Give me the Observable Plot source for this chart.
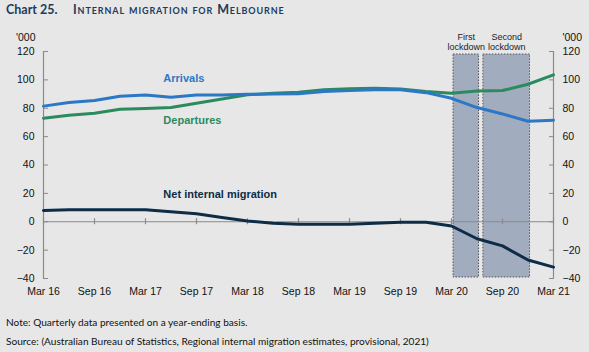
<!DOCTYPE html>
<html>
<head>
<meta charset="utf-8">
<script src="https://cdn.jsdelivr.net/npm/d3@7"></script>
<script src="https://cdn.jsdelivr.net/npm/@observablehq/plot@0.6"></script>
<style>
  html, body { margin: 0; padding: 0; }
  body { width: 589px; height: 352px; background: #e7e7e7; position: relative; overflow: hidden; font-family: "Liberation Sans", Arial, sans-serif; }
  #title { position: absolute; left: 6px; top: 2px; font-family: Lato, "Open Sans", sans-serif; font-weight: bold; color: #1d3c5c; font-size: 12.5px; white-space: nowrap; }
  #title .sub { position: absolute; left: 67px; top: 0; font-variant: small-caps; letter-spacing: 0.9px; font-size: 12.5px; }
  #chart { position: absolute; left: 0; top: 0; }
  .note { position: absolute; left: 6px; font-family: Lato, "Open Sans", sans-serif; font-size: 10.1px; color: #111; white-space: nowrap; }
</style>
</head>
<body>
<div id="chart"></div>
<div id="title"><span>Chart 25.</span><span class="sub">Internal migration for Melbourne</span></div>
<div class="note" style="top:316px">Note: Quarterly data presented on a year-ending basis.</div>
<div class="note" style="top:335px">Source: (Australian Bureau of Statistics, Regional internal migration estimates, provisional, 2021)</div>
<script>
// ---- data ----
const quarters = ["Mar 16","Jun 16","Sep 16","Dec 16","Mar 17","Jun 17","Sep 17","Dec 17",
  "Mar 18","Jun 18","Sep 18","Dec 18","Mar 19","Jun 19","Sep 19","Dec 19",
  "Mar 20","Jun 20","Sep 20","Dec 20","Mar 21"];
const arrivals   = [81.5, 84.0, 85.5, 88.5, 89.3, 87.8, 89.3, 89.4, 89.8, 90.0, 90.3, 91.8, 92.5, 93.0, 93.0, 91.0, 87.0, 80.5, 76.0, 70.8, 71.5];
const departures = [73.0, 75.0, 76.5, 79.3, 79.8, 80.5, 83.5, 86.5, 89.5, 90.5, 91.2, 93.0, 93.7, 94.1, 93.5, 91.8, 90.6, 92.2, 92.5, 96.9, 103.5];
const netMigration = [8.0, 8.5, 8.5, 8.5, 8.5, 7.0, 5.6, 3.0, 0.5, -1.0, -1.7, -1.7, -1.7, -1.0, -0.4, -0.4, -3.0, -12.0, -17.0, -27.0, -32.0];
const yTicks = [-40, -20, 0, 20, 40, 60, 80, 100, 120];
const xTickIdx = [0, 2, 4, 6, 8, 10, 12, 14, 16, 18, 20];
const lockdowns = [
  {name: "First\nlockdown", start: 16.08, end: 17.08},
  {name: "Second\nlockdown", start: 17.25, end: 19.08}
];
const seriesLabels = [
  {name: "Arrivals", x: 4.7, y: 101, color: "#2a78c6"},
  {name: "Departures", x: 4.7, y: 71.3, color: "#2c8a5f"},
  {name: "Net internal migration", x: 4.7, y: 19.2, color: "#0d2c47"}
];

const rows = (vals) => vals.map((v, i) => ({i, v}));
const axisGrey = "#8a8a8a";
const tickFont = {fontSize: 10.5, fill: "#111"};

const chart = Plot.plot({
  width: 589,
  height: 305,
  marginLeft: 43,
  marginRight: 36,
  marginTop: 51,
  marginBottom: 27,
  style: {background: "transparent", fontFamily: "'Liberation Sans', Arial, sans-serif", fontSize: "10.5px", color: "#111"},
  x: {domain: [0, quarters.length - 1]},
  y: {domain: [-40, 120]},
  marks: [
    Plot.rect(lockdowns, {x1: "start", x2: "end", fill: "#a2acbf", stroke: "#555", strokeDasharray: "1.5,1.5", strokeWidth: 1, insetTop: 3, insetBottom: 1}),
    Plot.text(lockdowns, {x: d => (d.start + d.end) / 2, text: "name", frameAnchor: "top", lineAnchor: "bottom", dy: -2, fontSize: 9, lineHeight: 1.1, fill: "#222"}),
    Plot.ruleY([0], {stroke: axisGrey, strokeWidth: 1.2}),
    Plot.ruleX(xTickIdx, {x: d => d, y1: 0, y2: 0, insetTop: -3, insetBottom: -3, stroke: axisGrey, strokeWidth: 1.2}),
    Plot.ruleX([0, quarters.length - 1], {stroke: axisGrey, strokeWidth: 1.2}),
    Plot.axisY(yTicks, {anchor: "left", tickSize: -5, tickFormat: () => "", label: null, stroke: axisGrey}),
    Plot.axisY(yTicks, {anchor: "right", tickSize: -5, tickFormat: () => "", label: null, stroke: axisGrey}),
    Plot.axisY(yTicks, {anchor: "left", tickSize: 0, tickPadding: 9, label: null, ...tickFont}),
    Plot.axisY(yTicks, {anchor: "right", tickSize: 0, tickPadding: 9, label: null, ...tickFont}),
    Plot.axisX(xTickIdx, {anchor: "bottom", tickSize: 0, tickPadding: 9, tickFormat: i => quarters[i], label: null, ...tickFont}),
    Plot.text(["'000"], {frameAnchor: "top-left", dx: -8, dy: -18, textAnchor: "end", ...tickFont}),
    Plot.text(["'000"], {frameAnchor: "top-right", dx: 9, dy: -18, textAnchor: "start", ...tickFont}),
    Plot.line(rows(departures), {x: "i", y: "v", stroke: "#2c8a5f", strokeWidth: 3}),
    Plot.line(rows(arrivals), {x: "i", y: "v", stroke: "#2a78c6", strokeWidth: 3}),
    Plot.line(rows(netMigration), {x: "i", y: "v", stroke: "#0d2c47", strokeWidth: 3}),
    ...seriesLabels.map(s => Plot.text([s], {x: "x", y: "y", text: "name", fill: s.color, textAnchor: "start", fontWeight: "bold", fontSize: 11}))
  ]
});
document.getElementById("chart").appendChild(chart);
</script>
</body>
</html>
